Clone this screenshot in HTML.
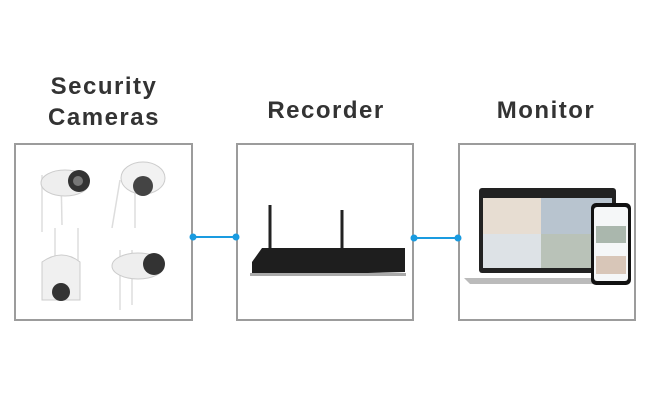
<!DOCTYPE html>
<html><head><style>
body{margin:0;width:650px;height:400px;background:#fff;overflow:hidden;position:relative;font-family:"Liberation Sans",sans-serif}
.t{position:absolute;font-weight:bold;font-size:24px;color:#333;letter-spacing:1.5px;text-align:center;line-height:31px}
</style></head><body>
<div class="t" style="left:4px;width:200px;top:71px">Security<br>Cameras</div>
<div class="t" style="left:226px;width:200px;top:95px">Recorder</div>
<div class="t" style="left:446px;width:200px;top:95px">Monitor</div>
<svg width="650" height="400" style="position:absolute;left:0;top:0">
<g fill="none" stroke="#9c9c9c" stroke-width="2">
<rect x="15" y="144" width="177" height="176"/>
<rect x="237" y="144" width="176" height="176"/>
<rect x="459" y="144" width="176" height="176"/>
</g>
<g stroke="#1a9be0" stroke-width="2" fill="#1a9be0">
<line x1="193" y1="237" x2="236" y2="237"/><circle cx="193" cy="237" r="2.5"/><circle cx="236" cy="237" r="2.5"/>
<line x1="414" y1="238" x2="458" y2="238"/><circle cx="414" cy="238" r="2.5"/><circle cx="458" cy="238" r="2.5"/>
</g>
<!-- cameras -->
<g stroke="#ddd" stroke-width="1.5"><line x1="42" y1="175" x2="42" y2="232"/><line x1="61" y1="175" x2="62" y2="225"/><line x1="120" y1="180" x2="112" y2="228"/><line x1="135" y1="190" x2="135" y2="228"/><line x1="55" y1="228" x2="55" y2="268"/><line x1="78" y1="228" x2="78" y2="268"/><line x1="120" y1="250" x2="120" y2="310"/><line x1="132" y1="250" x2="132" y2="305"/></g>
<ellipse cx="65" cy="183" rx="24" ry="13" fill="#eee" stroke="#ccc"/><circle cx="79" cy="181" r="11" fill="#333"/><circle cx="78" cy="181" r="5" fill="#777"/>
<ellipse cx="143" cy="178" rx="22" ry="16" fill="#f2f2f2" stroke="#ccc"/><circle cx="143" cy="186" r="10" fill="#444"/>
<path d="M42 262 Q62 248 80 262 L80 300 L42 300Z" fill="#f0f0f0" stroke="#ccc"/><circle cx="61" cy="292" r="9" fill="#333"/>
<ellipse cx="138" cy="266" rx="26" ry="13" fill="#eee" stroke="#ccc"/><circle cx="154" cy="264" r="11" fill="#333"/>
<!-- recorder -->
<line x1="270" y1="205" x2="270" y2="250" stroke="#222" stroke-width="3"/><line x1="342" y1="210" x2="342" y2="250" stroke="#222" stroke-width="3"/>
<path d="M252 262 L262 248 L405 248 L405 272 L252 276Z" fill="#1e1e1e"/><rect x="250" y="273" width="156" height="3" fill="#aaa"/>
<!-- laptop -->
<rect x="479" y="188" width="137" height="85" rx="3" fill="#222"/><rect x="483" y="198" width="129" height="70" fill="#c9d3da"/>
<rect x="483" y="198" width="58" height="36" fill="#e7ddd2"/><rect x="541" y="198" width="71" height="36" fill="#b8c4cf"/><rect x="483" y="234" width="58" height="34" fill="#dde2e6"/><rect x="541" y="234" width="71" height="34" fill="#b9c2b8"/>
<path d="M464 278 L629 278 L622 284 L470 284Z" fill="#bbb"/>
<rect x="591" y="203" width="40" height="82" rx="5" fill="#111"/><rect x="594" y="207" width="34" height="74" rx="3" fill="#f5f7f8"/>
<rect x="596" y="226" width="30" height="17" fill="#aab7ad"/><rect x="596" y="256" width="30" height="18" fill="#d8c6b8"/>
</svg>
</body></html>
